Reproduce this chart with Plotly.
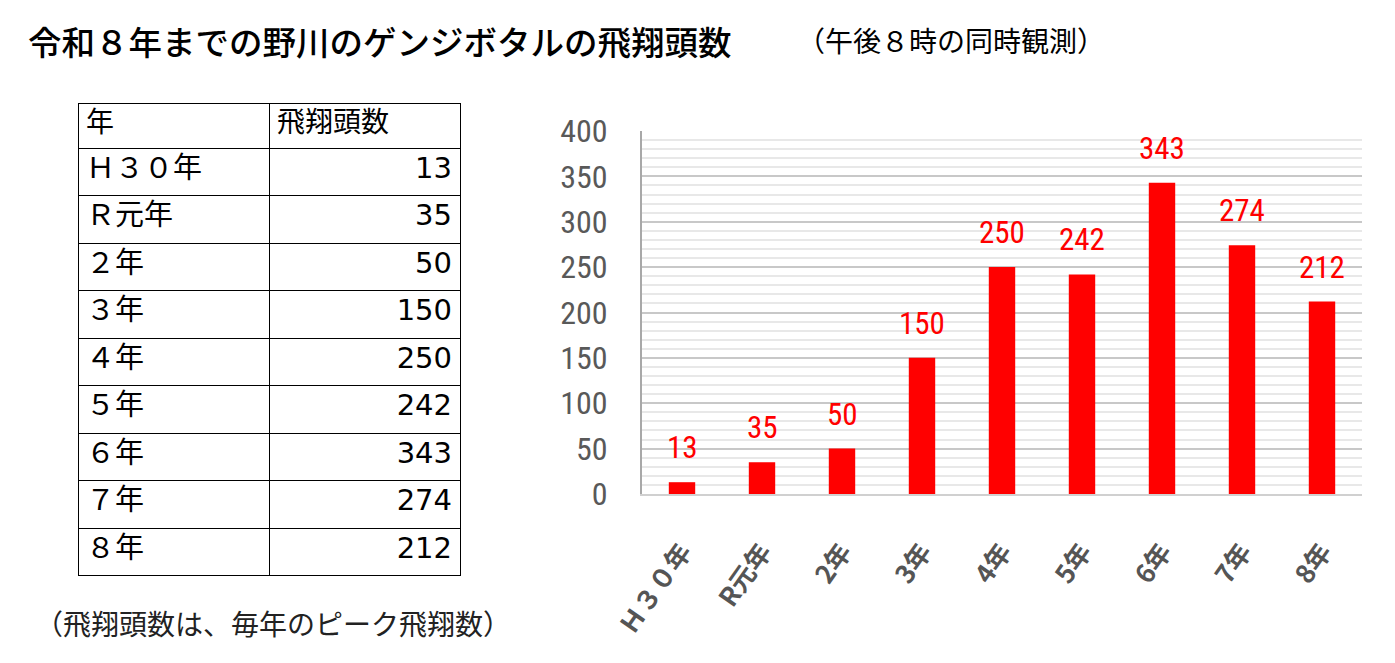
import plotly.graph_objects as go

# 年ごとの飛翔頭数（午後8時の同時観測）
years_table = ["Ｈ３０年", "Ｒ元年", "２年", "３年", "４年", "５年", "６年", "７年", "８年"]
years_axis = ["Ｈ３０年", "R元年", "2年", "3年", "4年", "5年", "6年", "7年", "8年"]
counts = [13, 35, 50, 150, 250, 242, 343, 274, 212]
header = ["年", "飛翔頭数"]

jp_font = "Noto Sans CJK JP"
tbl_font = "DejaVu Sans, Noto Sans CJK JP"
num_font = "Liberation Sans Narrow, Roboto Condensed, Roboto, sans-serif"
W, H = 1395, 663
OFF = 8  # page body margin


def px(x):
    return (x - OFF) / W


def py(y):
    return 1 - (y - OFF) / H


fig = go.Figure()

fig.add_trace(go.Table(
    domain=dict(x=[px(78), px(460)], y=[py(580), py(103)]),
    columnwidth=[1, 1],
    header=dict(values=header, align=["left", "left"], height=45,
                font=dict(family=jp_font, size=28, color="black"),
                line=dict(color="black", width=1), fill=dict(color="white")),
    cells=dict(values=[years_table, [str(c) for c in counts]],
               align=["left", "right"], height=47.5,
               font=dict(family=tbl_font, size=29, color="black"),
               line=dict(color="black", width=1), fill=dict(color="white")),
))

fig.add_trace(go.Bar(
    x=years_axis, y=counts, marker=dict(color="#ff0000", line=dict(width=0)),
    xaxis="x", yaxis="y", showlegend=False, hoverinfo="x+y",
))

for yr, c in zip(years_axis, counts):
    fig.add_annotation(x=yr, y=c, xref="x", yref="y", text=str(c), showarrow=False,
                       yanchor="bottom", yshift=14,
                       font=dict(family=num_font, size=31, color="#ff0000"))

fig.add_annotation(x=px(26), y=py(40), xref="paper", yref="paper", xanchor="left",
                   yanchor="middle", showarrow=False,
                   text="令和８年までの野川のゲンジボタルの飛翔頭数",
                   font=dict(family=jp_font, size=33.5, color="black", weight=500))
fig.add_annotation(x=px(795), y=py(40), xref="paper", yref="paper", xanchor="left",
                   yanchor="middle", showarrow=False,
                   text="（午後８時の同時観測）",
                   font=dict(family=jp_font, size=28, color="black"))
fig.add_annotation(x=px(33), y=py(623), xref="paper", yref="paper", xanchor="left",
                   yanchor="middle", showarrow=False,
                   text="（飛翔頭数は、毎年のピーク飛翔数）",
                   font=dict(family=jp_font, size=28, color="#222222"))

fig.update_layout(
    width=W, height=H, margin=dict(l=0, r=0, t=0, b=0, autoexpand=False),
    paper_bgcolor="white", plot_bgcolor="white", bargap=0.67,
    xaxis=dict(domain=[px(642), px(1362)], tickangle=-55, ticklabelstandoff=30,
               tickfont=dict(family=jp_font, size=26, color="#555555", weight="bold"),
               showline=True, linecolor="#d0d0d0", linewidth=2, showgrid=False,
               ticks="", fixedrange=True, automargin=False),
    yaxis=dict(domain=[py(494), py(131)], range=[0, 400], dtick=50,
               tickfont=dict(family=num_font, size=32, color="#595959"),
               showgrid=True, gridcolor="#c8c8c8", gridwidth=2,
               minor=dict(dtick=10, showgrid=True, gridcolor="#e8e8e8", gridwidth=1.5),
               showline=True, linecolor="#a8a8a8", linewidth=2,
               ticks="", ticklabelstandoff=26, zeroline=False, fixedrange=True,
               automargin=False),
)

fig.write_html("out.html")
